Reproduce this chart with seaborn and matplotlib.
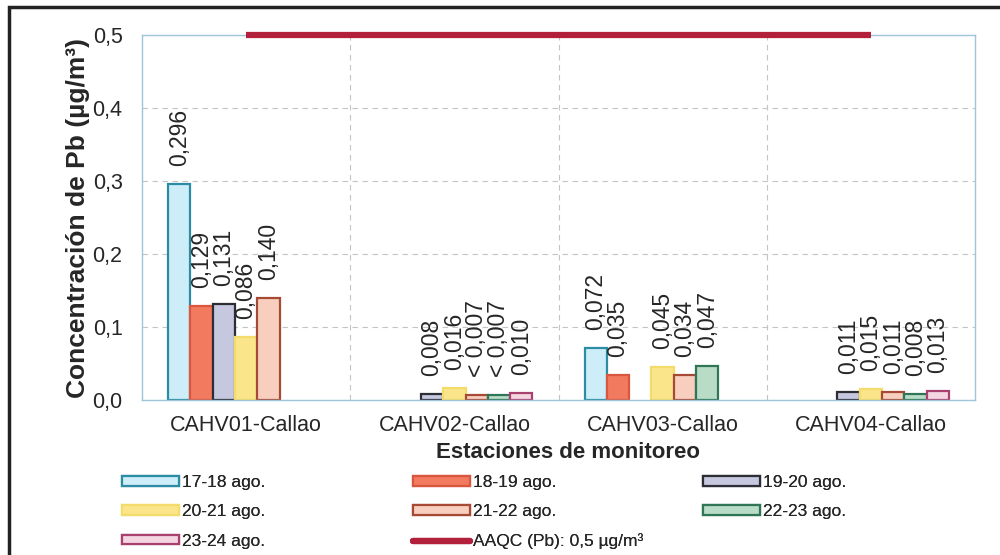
import numpy as np
import pandas as pd
import matplotlib
matplotlib.use("Agg")
import matplotlib.pyplot as plt
from matplotlib.patches import Patch, Rectangle
from matplotlib.lines import Line2D
from matplotlib.ticker import FixedLocator
import seaborn as sns

# data
stations = ["CAHV01-Callao", "CAHV02-Callao", "CAHV03-Callao", "CAHV04-Callao"]
periods = ["17-18 ago.", "18-19 ago.", "19-20 ago.", "20-21 ago.",
           "21-22 ago.", "22-23 ago.", "23-24 ago."]

pb_17_18 = [0.296, None, 0.072, None]
pb_18_19 = [0.129, None, 0.035, None]
pb_19_20 = [0.131, 0.008, None, 0.011]
pb_20_21 = [0.086, 0.016, 0.045, 0.015]
pb_21_22 = [0.140, 0.007, 0.034, 0.011]
pb_22_23 = [None, 0.007, 0.047, 0.008]
pb_23_24 = [None, 0.010, None, 0.013]

# values reported as below detection limit ("< 0,007")
below_limit = [("21-22 ago.", "CAHV02-Callao"), ("22-23 ago.", "CAHV02-Callao")]

aaqc_pb = 0.5
aaqc_label = "AAQC (Pb): 0,5 µg/m³"

face_colors = ["#cdeef8", "#f27a5e", "#c5c8df", "#fbe58a", "#f8cfbf", "#b9dcc7", "#f4d5e2"]
edge_colors = ["#2b8ca3", "#d9573f", "#2d2d36", "#f3dc6c", "#a64a35", "#2f7556", "#a8416e"]
aaqc_color = "#b3203c"

series = [pb_17_18, pb_18_19, pb_19_20, pb_20_21, pb_21_22, pb_22_23, pb_23_24]
rows = []
for per, vals in zip(periods, series):
    for st, v in zip(stations, vals):
        if v is not None:
            rows.append({"Estacion": st, "Periodo": per, "Pb": v})
data = pd.DataFrame(rows)

sns.set_style("white")
plt.rcParams["font.family"] = ["Liberation Sans", "DejaVu Sans"]

fig = plt.figure(figsize=(10, 5.55), dpi=100)
ax = fig.add_axes([0.142, 0.279, 0.833, 0.658])

palette = dict(zip(periods, face_colors))
sns.barplot(data=data, x="Estacion", y="Pb", hue="Periodo", order=stations,
            hue_order=periods, palette=palette, width=0.75, gap=0,
            errorbar=None, legend=False, saturation=1, ax=ax)

face_to_idx = {tuple(np.round(matplotlib.colors.to_rgba(c), 3)): i for i, c in enumerate(face_colors)}
lookup = {(r.Periodo, r.Estacion): r.Pb for r in data.itertuples()}

for cont in ax.containers:
    fc = tuple(np.round(cont.patches[0].get_facecolor(), 3))
    i = face_to_idx[fc]
    labels = []
    for p in cont.patches:
        p.set_edgecolor(edge_colors[i])
        p.set_linewidth(1.6)
        k = int(round(p.get_x() + p.get_width() / 2))
        key = (periods[i], stations[k])
        txt = f"{lookup[key]:.3f}".replace(".", ",")
        if key in below_limit:
            txt = "< " + txt
        labels.append(txt)
    ax.bar_label(cont, labels=labels, rotation=90, padding=13, fontsize=16.5)

# AAQC limit line
ax.plot(range(len(stations)), [aaqc_pb] * len(stations), color=aaqc_color,
        lw=4.5, clip_on=False, zorder=5, solid_capstyle="butt")

ax.set_ylim(0, 0.5)
ax.set_xlim(-0.5, len(stations) - 0.5)
yt = [0, 0.1, 0.2, 0.3, 0.4, 0.5]
ax.set_yticks(yt)
ax.set_yticklabels([f"{t:.1f}".replace(".", ",") for t in yt])
ax.tick_params(axis="y", length=0, pad=14, labelsize=15.5)
ax.tick_params(axis="x", length=0, pad=11, labelsize=15.5)

ax.yaxis.grid(True, color="#c4c4c4", ls=(0, (5, 4)), lw=0.8)
ax.xaxis.set_minor_locator(FixedLocator([0.5, 1.5, 2.5]))
ax.xaxis.grid(True, which="minor", color="#c4c4c4", ls=(0, (5, 4)), lw=0.8)
ax.xaxis.grid(False, which="major")
ax.tick_params(axis="x", which="minor", length=0)
ax.set_axisbelow(True)

for s in ax.spines.values():
    s.set_color("#9fc6d8")
    s.set_linewidth(1.0)
    s.set_linestyle((0, (6, 1)))

ax.set_ylabel("Concentración de Pb (µg/m³)", fontsize=19, fontweight="bold", labelpad=2)
ax.set_xlabel("Estaciones de monitoreo", fontsize=16, fontweight="bold")
ax.xaxis.set_label_coords(0.512, -0.114)

# legend in three columns, filled row by row
handles = [Patch(facecolor=f, edgecolor=e, lw=1.6) for f, e in zip(face_colors, edge_colors)]
handles.append(Line2D([], [], color=aaqc_color, lw=4.5))
names = periods + [aaqc_label]
columns = [[0, 3, 6], [1, 4, 7], [2, 5]]
col_x = [0.122, 0.413, 0.703]
for cx, idx in zip(col_x, columns):
    leg = fig.legend([handles[j] for j in idx], [names[j] for j in idx],
                     loc="upper left", bbox_to_anchor=(cx, 0.144), frameon=False,
                     fontsize=12.5, handlelength=3.3, handleheight=0.45,
                     handletextpad=0.15, labelspacing=0.82, borderpad=0,
                     borderaxespad=0)
    fig.add_artist(leg)

# scanned page frame
fig.add_artist(Rectangle((0.009, -0.02), 1.02, 1.007, transform=fig.transFigure,
                         fill=False, edgecolor="#222222", lw=2.5, clip_on=False))

fig.savefig("out.png", dpi=100)
